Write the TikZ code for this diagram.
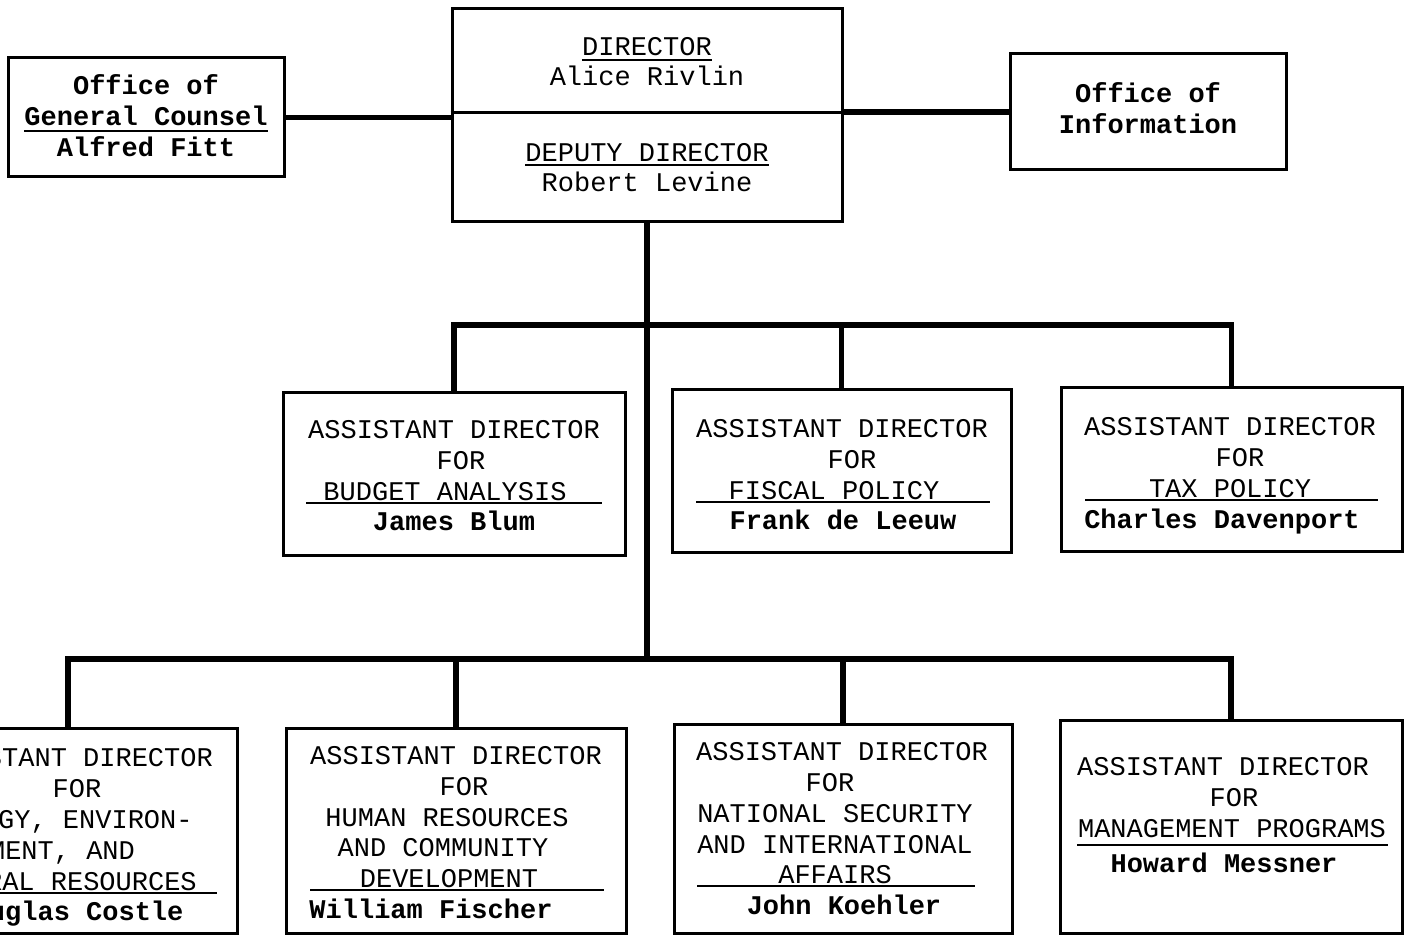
\documentclass[tikz,border=0pt]{standalone}
\usepackage{fontspec}
\setmainfont{Liberation Mono}
\begin{document}
\begin{tikzpicture}[x=1pt,y=-1pt,
  box/.style={draw=black,line width=3pt,rectangle,inner sep=0pt,fill=white},
  conn/.style={draw=black,line width=5.5pt,line join=miter},
  rulel/.style={draw=black,line width=2.6pt},
  tx/.style={anchor=base,inner sep=0pt,font=\fontsize{27}{31}\selectfont},
  nm/.style={tx,font=\fontsize{27}{31}\selectfont\bfseries}]
\useasboundingbox (0,0) rectangle (1404,936);
\fill[white] (0,0) rectangle (1404,936);
\clip (0,0) rectangle (1404,936);

% boxes
\node[box,minimum width=276pt,minimum height=119pt] (GC) at (146,117.5) {};
\node[box,minimum width=390pt,minimum height=212pt] (DIR) at (647,115) {};
\node[box,minimum width=276pt,minimum height=116pt] (INFO) at (1148,112) {};
\node[box,minimum width=342pt,minimum height=163pt] (B1) at (454,473.5) {};
\node[box,minimum width=339pt,minimum height=163pt] (B2) at (841.5,470.5) {};
\node[box,minimum width=341pt,minimum height=164pt] (B3) at (1231.5,469) {};
\node[box,minimum width=338pt,minimum height=205pt] (L1) at (68,830.5) {};
\node[box,minimum width=340pt,minimum height=205pt] (L2) at (456,830.5) {};
\node[box,minimum width=338pt,minimum height=209pt] (L3) at (843,828.5) {};
\node[box,minimum width=342pt,minimum height=213pt] (L4) at (1231,826.5) {};

\coordinate (ub) at (0,325);
\coordinate (lb) at (0,659);
\coordinate (dv) at (0,113);

% divider in director box
\draw[line width=3pt] (DIR.west |- dv) -- (DIR.east |- dv);

% connectors
\draw[conn] (GC.east) -- (GC.east -| DIR.west);
\draw[conn] (INFO.west) -- (INFO.west -| DIR.east);
\draw[conn] (DIR.south) -- (DIR.south |- lb);
\draw[conn] (B1.north) |- (B3.north |- ub) -- (B3.north);
\draw[conn] (B2.north) -- (B2.north |- ub);
\draw[conn] (L1.north) |- (L4.north |- lb) -- (L4.north);
\draw[conn] (L2.north) -- (L2.north |- lb);
\draw[conn] (L3.north) -- (L3.north |- lb);

% General Counsel
\node[nm] (gc1) at (146,95) {Office of};
\node[nm] (gc2) at (146,126) {General Counsel};
\node[nm] (gc3) at (146,157) {Alfred Fitt};
\draw[rulel] ([yshift=-5pt]gc2.base west) -- ([yshift=-5pt]gc2.base east);

% Director
\node[tx] (d1) at (647,56) {DIRECTOR};
\node[tx] (d2) at (647,86) {Alice Rivlin};
\node[tx] (d3) at (647,161) {DEPUTY DIRECTOR};
\node[tx] (d4) at (647,191) {Robert Levine};
\draw[line width=1.6pt] ([yshift=-4pt]d1.base west) -- ([yshift=-4pt]d1.base east);
\draw[line width=1.6pt] ([yshift=-4pt]d3.base west) -- ([yshift=-4pt]d3.base east);

% Information
\node[nm] (i1) at (1148,103) {Office of};
\node[nm] (i2) at (1148,134) {Information};

% B1
\node[tx] (b1a) at (454,438) {ASSISTANT DIRECTOR};
\node[tx] (b1b) at (461,469) {FOR};
\node[tx] (b1c) at (445,500) {BUDGET ANALYSIS};
\node[nm] (b1d) at (454,530) {James Blum};
\draw[rulel] (306,503) -- (602,503);

% B2
\node[tx] (b2a) at (842,437) {ASSISTANT DIRECTOR};
\node[tx] (b2b) at (852,468) {FOR};
\node[tx] (b2c) at (834,499) {FISCAL POLICY};
\node[nm] (b2d) at (843,529) {Frank de Leeuw};
\draw[rulel] (696,502) -- (990,502);

% B3
\node[tx] (b3a) at (1230,435) {ASSISTANT DIRECTOR};
\node[tx] (b3b) at (1240,466) {FOR};
\node[tx] (b3c) at (1230,497) {TAX POLICY};
\node[nm] (b3d) at (1222,528) {Charles Davenport};
\draw[rulel] (1085,500) -- (1378,500);

% L1
\node[tx] (l1a) at (67,766) {ASSISTANT DIRECTOR};
\node[tx] (l1b) at (77,797) {FOR};
\node[tx] (l1c) at (63,828) {ENERGY, ENVIRON-};
\node[tx] (l1d) at (62,859) {MENT, AND};
\node[tx] (l1e) at (59,890) {NATURAL RESOURCES};
\node[nm] (l1f) at (70,920) {Douglas Costle};
\draw[rulel] (-90,893) -- (217,893);

% L2
\node[tx] (l2a) at (456,764) {ASSISTANT DIRECTOR};
\node[tx] (l2b) at (464,795) {FOR};
\node[tx] (l2c) at (447,826) {HUMAN RESOURCES};
\node[tx] (l2d) at (443,856) {AND COMMUNITY};
\node[tx] (l2e) at (449,887) {DEVELOPMENT};
\node[nm] (l2f) at (431,918) {William Fischer};
\draw[rulel] (310,890) -- (604,890);

% L3
\node[tx] (l3a) at (842,760) {ASSISTANT DIRECTOR};
\node[tx] (l3b) at (830,791) {FOR};
\node[tx] (l3c) at (835,822) {NATIONAL SECURITY};
\node[tx] (l3d) at (835,853) {AND INTERNATIONAL};
\node[tx] (l3e) at (835,883) {AFFAIRS};
\node[nm] (l3f) at (844,914) {John Koehler};
\draw[rulel] (697,886) -- (975,886);

% L4
\node[tx] (l4a) at (1223,775) {ASSISTANT DIRECTOR};
\node[tx] (l4b) at (1234,806) {FOR};
\node[tx] (l4c) at (1232,837) {MANAGEMENT PROGRAMS};
\node[nm] (l4d) at (1224,872) {Howard Messner};
\draw[rulel] (1077,845) -- (1388,845);
\end{tikzpicture}
\end{document}
